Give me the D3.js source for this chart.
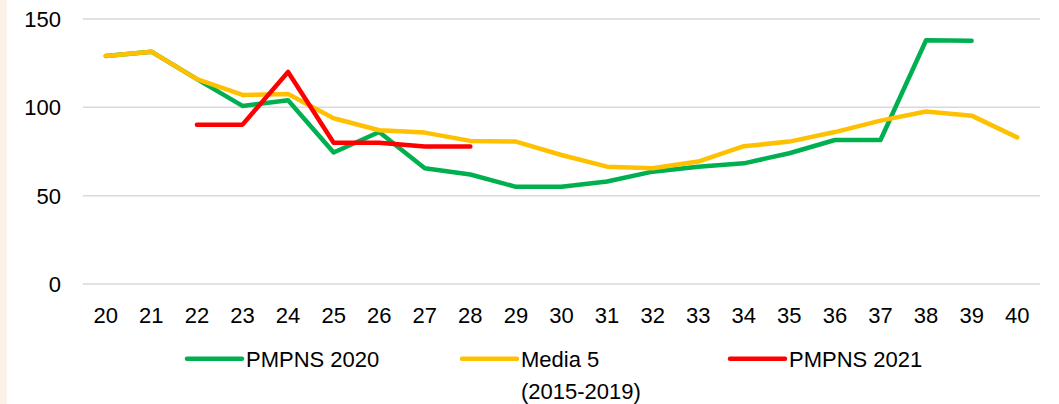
<!DOCTYPE html>
<html>
<head>
<meta charset="utf-8">
<script src="https://cdn.jsdelivr.net/npm/d3@7"></script>
<style>
  body { margin: 0; background: #fff; }
  svg { display: block; font-family: "Liberation Sans", Arial, sans-serif; }
</style>
</head>
<body>
<div id="chart"></div>
<script>
const weeks = ["20","21","22","23","24","25","26","27","28","29","30","31","32","33","34","35","36","37","38","39","40"];
const pmpns2020 = [129, 131.5, 116, 100.8, 104, 74.4, 86, 65.5, 62, 55, 55, 58, 63.6, 66.4, 68.3, 74, 81.5, 81.5, 138, 137.7];
const media5 = [129, 131.5, 116, 107, 107.5, 93.8, 87, 85.7, 81, 80.6, 73, 66.4, 65.5, 69.3, 78, 80.6, 86, 92.5, 97.6, 95.3, 83];
const pmpns2021 = [90.2, 90.2, 120, 80, 80, 77.8, 77.8];
const yTicks = [0, 50, 100, 150];

const width = 1059, height = 404;

const svg = d3.select("#chart").append("svg")
    .attr("width", width)
    .attr("height", height);

// beige strip on the left edge
svg.append("rect")
    .attr("x", 0).attr("y", 0)
    .attr("width", 7).attr("height", height)
    .attr("fill", "#fbf1e7");

const x = d3.scalePoint().domain(weeks).range([83, 1040]).padding(0.5);
const y = d3.scaleLinear().domain([0, 150]).range([284, 19]);

// gridlines
svg.append("g")
  .selectAll("line")
  .data(yTicks)
  .join("line")
    .attr("x1", 83).attr("x2", 1040)
    .attr("y1", d => y(d)).attr("y2", d => y(d))
    .attr("stroke", "#d9d9d9")
    .attr("stroke-width", 1.5);

// y labels
svg.append("g")
  .selectAll("text")
  .data(yTicks)
  .join("text")
    .attr("x", 61)
    .attr("y", d => y(d) + 8)
    .attr("text-anchor", "end")
    .attr("font-size", 22)
    .attr("fill", "#000")
    .text(d => d);

// x labels
svg.append("g")
  .selectAll("text")
  .data(weeks)
  .join("text")
    .attr("x", d => x(d))
    .attr("y", 322.5)
    .attr("text-anchor", "middle")
    .attr("font-size", 22)
    .attr("fill", "#000")
    .text(d => d);

const series = [
  { name: "PMPNS 2020", color: "#00b050", values: pmpns2020, start: 0 },
  { name: "Media 5", color: "#ffc000", values: media5, start: 0 },
  { name: "PMPNS 2021", color: "#ff0000", values: pmpns2021, start: 2 }
];

const line = d3.line()
    .x(d => x(d.week))
    .y(d => y(d.value));

svg.append("g")
  .selectAll("path")
  .data(series)
  .join("path")
    .attr("d", s => line(s.values.map((v, i) => ({ week: weeks[i + s.start], value: v }))))
    .attr("fill", "none")
    .attr("stroke", s => s.color)
    .attr("stroke-width", 4.5)
    .attr("stroke-linejoin", "round")
    .attr("stroke-linecap", "round");

// legend
const legendX = [187, 462, 730];
const legend = svg.append("g")
  .selectAll("g")
  .data(series)
  .join("g")
    .attr("transform", (d, i) => "translate(" + legendX[i] + ",0)");

legend.append("line")
    .attr("x1", 0).attr("x2", 55)
    .attr("y1", 358.7).attr("y2", 358.7)
    .attr("stroke", d => d.color)
    .attr("stroke-width", 4.5)
    .attr("stroke-linecap", "round");

legend.append("text")
    .attr("x", 59)
    .attr("y", 367)
    .attr("font-size", 22)
    .attr("fill", "#000")
    .text(d => d.name);

legend.filter(d => d.name === "Media 5")
  .append("text")
    .attr("x", 59)
    .attr("y", 399)
    .attr("font-size", 22)
    .attr("fill", "#000")
    .text("(2015-2019)");
</script>
</body>
</html>
